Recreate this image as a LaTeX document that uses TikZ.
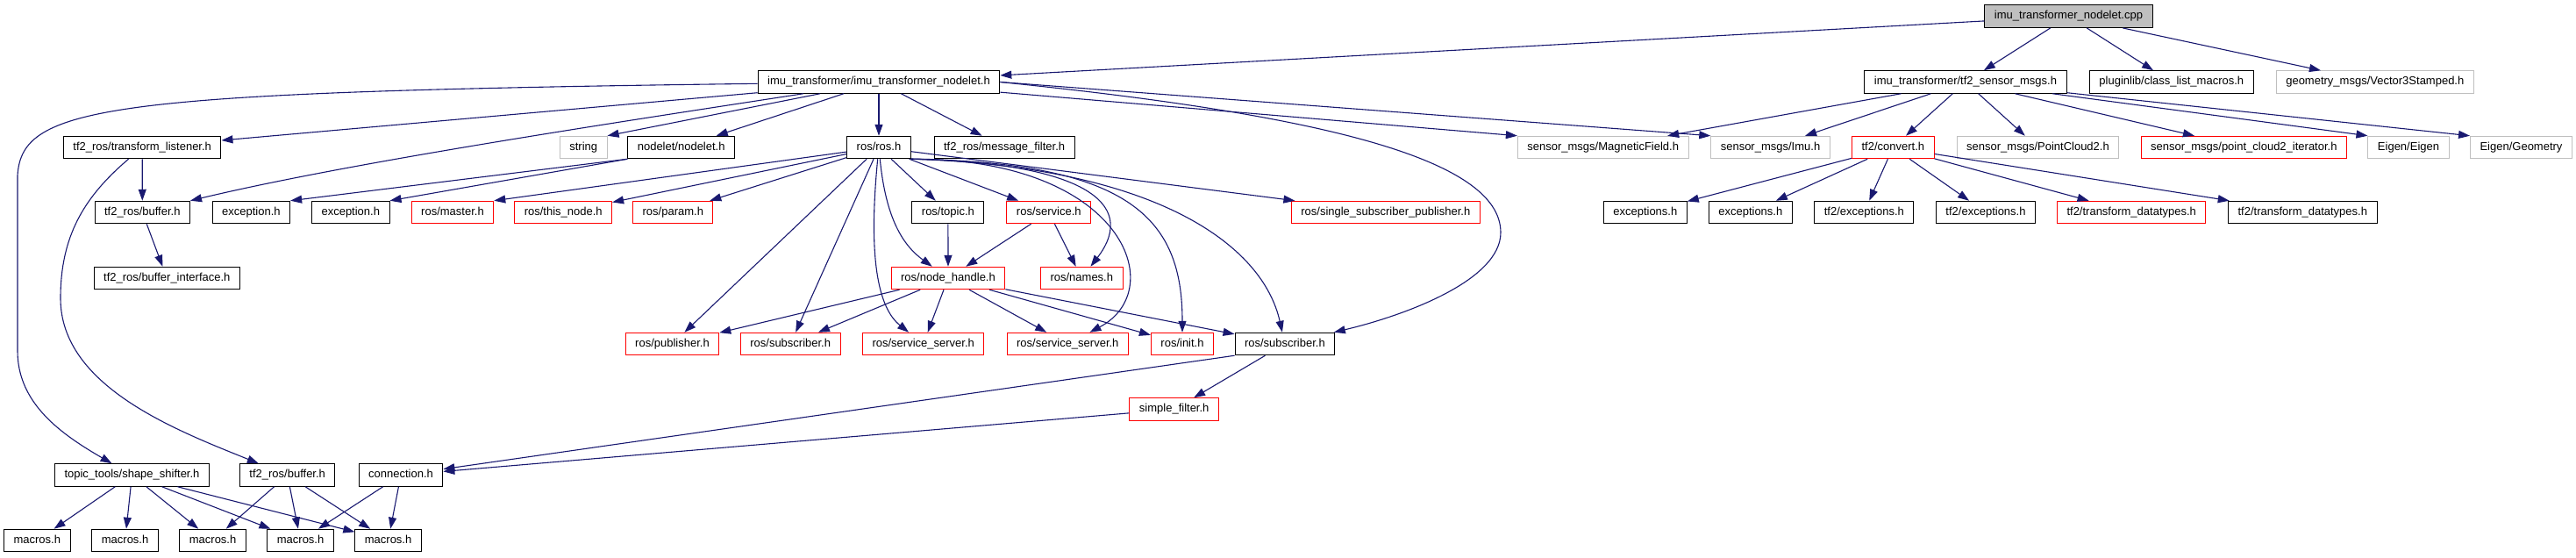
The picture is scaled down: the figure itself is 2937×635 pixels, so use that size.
\documentclass[tikz,border=0pt]{standalone}
\usepackage{fontspec}
\setmainfont{Liberation Sans}
\usetikzlibrary{arrows.meta}

\definecolor{edgeblue}{HTML}{191970}
\definecolor{boxgray}{HTML}{BFBFBF}

\begin{document}
\begin{tikzpicture}[
  x=1pt, y=-1pt,
  >={Triangle[length=13pt,width=9pt]},
  every node/.style={font=\fontsize{13}{15}\selectfont},
  hdr/.style={draw,line width=1pt,fill=white,inner xsep=11pt,inner ysep=0pt,
              text height=9.5pt,text depth=3pt,minimum height=25.5pt},
  hdrred/.style={hdr,draw=red},
  hdrgray/.style={hdr,draw=boxgray},
  inc/.style={->,line width=1.1pt,draw=edgeblue}
]
  \useasboundingbox (0,0) rectangle (2937,635);

  % row 0 and 1
  \node[hdr,fill=boxgray] (cpp) at (2358.5,18.7) {imu\_transformer\_nodelet.cpp};
  \node[hdr] (nodeleth) at (1002,93.5) {imu\_transformer/imu\_transformer\_nodelet.h};
  \node[hdr] (sensormsgs) at (2241,93.5) {imu\_transformer/tf2\_sensor\_msgs.h};
  \node[hdr] (pluginlib) at (2475.8,93.5) {pluginlib/class\_list\_macros.h};
  \node[hdrgray] (vecstamped) at (2707.8,93.5) {geometry\_msgs/Vector3Stamped.h};

  % row 2
  \node[hdr] (tflistener) at (162.2,168) {tf2\_ros/transform\_listener.h};
  \node[hdrgray] (string) at (665.2,168) {string};
  \node[hdr] (nodelet) at (776.7,168) {nodelet/nodelet.h};
  \node[hdr] (rosh) at (1002,168) {ros/ros.h};
  \node[hdr] (msgfilter) at (1145.1,168) {tf2\_ros/message\_filter.h};
  \node[hdrgray] (magfield) at (1827.7,168) {sensor\_msgs/MagneticField.h};
  \node[hdrgray] (imu) at (2018.5,168) {sensor\_msgs/Imu.h};
  \node[hdrred] (convert) at (2158.3,168) {tf2/convert.h};
  \node[hdrgray] (pcloud) at (2323.5,168) {sensor\_msgs/PointCloud2.h};
  \node[hdrred] (pciter) at (2558.3,168) {sensor\_msgs/point\_cloud2\_iterator.h};
  \node[hdrgray] (eigen) at (2746,168) {Eigen/Eigen};
  \node[hdrgray] (geometry) at (2874.5,168) {Eigen/Geometry};

  % row 3
  \node[hdr] (buffer) at (162.3,242) {tf2\_ros/buffer.h};
  \node[hdr] (excA) at (286.4,242) {exception.h};
  \node[hdr] (excB) at (399.8,242) {exception.h};
  \node[hdrred] (master) at (516,242) {ros/master.h};
  \node[hdrred] (thisnode) at (642.2,242) {ros/this\_node.h};
  \node[hdrred] (param) at (767.3,242) {ros/param.h};
  \node[hdr] (topic) at (1080.9,242) {ros/topic.h};
  \node[hdrred] (service) at (1195.8,242) {ros/service.h};
  \node[hdrred] (sspub) at (1579.8,242) {ros/single\_subscriber\_publisher.h};
  \node[hdr] (excsA) at (1875.8,242) {exceptions.h};
  \node[hdr] (excsB) at (1995.8,242) {exceptions.h};
  \node[hdr] (tfexcA) at (2125.3,242) {tf2/exceptions.h};
  \node[hdr] (tfexcB) at (2264,242) {tf2/exceptions.h};
  \node[hdrred] (tdatared) at (2430.2,242) {tf2/transform\_datatypes.h};
  \node[hdr] (tdata) at (2625.3,242) {tf2/transform\_datatypes.h};

  % row 4 to 8
  \node[hdr] (bufiface) at (190.3,317) {tf2\_ros/buffer\_interface.h};
  \node[hdrred] (nodehandle) at (1081,317) {ros/node\_handle.h};
  \node[hdrred] (names) at (1233.3,317) {ros/names.h};
  \node[hdrred] (publisher) at (766.5,392) {ros/publisher.h};
  \node[hdrred] (subred) at (901.2,392) {ros/subscriber.h};
  \node[hdrred] (srvA) at (1052.7,392) {ros/service\_server.h};
  \node[hdrred] (srvB) at (1217.3,392) {ros/service\_server.h};
  \node[hdrred] (init) at (1348,392) {ros/init.h};
  \node[hdr] (subscriber) at (1464.9,392) {ros/subscriber.h};
  \node[hdrred] (simplefilter) at (1338.7,466.5) {simple\_filter.h};
  \node[hdr] (shifter) at (150.5,541.5) {topic\_tools/shape\_shifter.h};
  \node[hdr] (bufferB) at (327.7,541.5) {tf2\_ros/buffer.h};
  \node[hdr] (connection) at (457,541.5) {connection.h};
  \foreach \i/\x in {1/42.3,2/142.6,3/242.6,4/342.6,5/442.6}
    \node[hdr] (macros\i) at (\x,616) {macros.h};

  % includes of the .cpp
  \draw[inc] (cpp) -- (nodeleth);
  \foreach \t in {sensormsgs,pluginlib,vecstamped}
    \draw[inc] (cpp) -- (\t);

  % includes of imu_transformer_nodelet.h
  \foreach \t in {tflistener,nodelet,rosh,msgfilter}
    \draw[inc] (nodeleth) -- (\t);
  \draw[inc] (nodeleth) -- (string.north east);
  \draw[inc] (nodeleth) -- (magfield.north west);
  \draw[inc] (nodeleth.east) -- (imu.north west);
  \draw[inc] (nodeleth) .. controls (700,140) and (400,185) .. (buffer.north east);
  \draw[inc] (nodeleth) .. controls (120,105) and (25,120) .. (20,200)
    -- (20,400) .. controls (20,460) and (70,495) .. (shifter);
  \draw[inc] (nodeleth.east) .. controls (1500,130) and (1711,180) .. (1711,265)
    .. controls (1711,320) and (1600,360) .. (subscriber);

  \draw[inc] (tflistener) -- (buffer);
  \draw[inc] (tflistener) .. controls (95,225) and (69,270) .. (69,340)
    .. controls (69,440) and (200,490) .. (bufferB);
  \draw[inc] (buffer) -- (bufiface);
  \draw[inc] (nodelet.south west) -- (excA.north east);
  \draw[inc] (nodelet.south west) -- (excB.north east);

  % ros/ros.h
  \draw[inc] (rosh) -- (master.north east);
  \foreach \t in {thisnode,param,publisher,subred,topic,service,sspub}
    \draw[inc] (rosh) -- (\t);
  \draw[inc] (rosh) .. controls (1010,250) and (1030,280) .. (nodehandle);
  \draw[inc] (rosh) .. controls (990,290) and (1000,350) .. (srvA);
  \draw[inc] (rosh.south east) .. controls (1230,185) and (1300,230) .. (names);
  \draw[inc] (rosh.south east) .. controls (1280,180) and (1335,330) .. (srvB);
  \draw[inc] (rosh.south east) .. controls (1290,185) and (1348,250) .. (init);
  \draw[inc] (rosh.south east) .. controls (1320,190) and (1440,280) .. (subscriber);
  \draw[inc] (topic) -- (nodehandle);
  \draw[inc] (service) -- (nodehandle);
  \draw[inc] (service) -- (names);
  \foreach \t in {publisher,subred,srvA,srvB,init,subscriber}
    \draw[inc] (nodehandle) -- (\t);

  \draw[inc] (subscriber) -- (simplefilter);
  \draw[inc] (subscriber.south west) -- (connection);
  \draw[inc] (simplefilter) -- (connection);
  \foreach \i in {1,...,5}
    \draw[inc] (shifter) -- (macros\i);
  \foreach \i in {3,4,5}
    \draw[inc] (bufferB) -- (macros\i);
  \foreach \i in {4,5}
    \draw[inc] (connection) -- (macros\i);

  % imu_transformer/tf2_sensor_msgs.h
  \foreach \t in {magfield,imu,convert,pcloud,pciter}
    \draw[inc] (sensormsgs) -- (\t);
  \draw[inc] (sensormsgs) -- (eigen.north west);
  \draw[inc] (sensormsgs) -- (geometry.north west);
  \foreach \t in {excsA,excsB,tfexcA,tfexcB,tdatared,tdata}
    \draw[inc] (convert) -- (\t);
\end{tikzpicture}
\end{document}
